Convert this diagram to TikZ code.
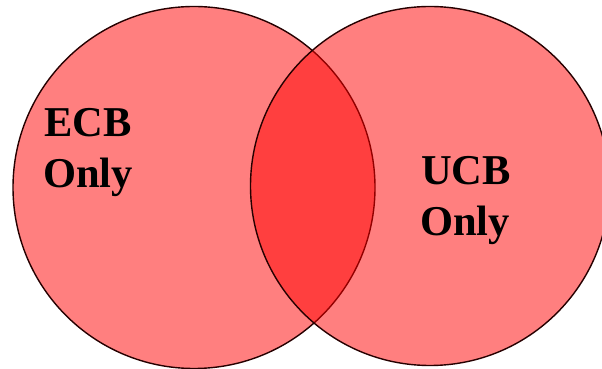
\documentclass[tikz,border=0pt]{standalone}
\usepackage{fontspec}
\setmainfont{Liberation Serif}
\begin{document}
\begin{tikzpicture}[x=1pt,y=1pt,
  setcircle/.style={circle, draw=black!85!red, line width=1.4pt,
    fill=red, fill opacity=0.5, draw opacity=1, inner sep=0pt},
  setlabel/.style={anchor=base west, inner sep=0pt,
    font=\fontsize{42.5}{50}\selectfont\bfseries, text=black}]
  \useasboundingbox (0,0) rectangle (602,369);
  \clip (0,0) rectangle (602,369);
  % the two overlapping sets
  \node[setcircle, minimum size=362pt] (ecb) at (194,181.5) {};
  \node[setcircle, minimum size=359pt] (ucb) at (430,183) {};
  % labels
  \node[setlabel] (ecbtop) at (44,232) {ECB};
  \node[setlabel] (ecbbot) at (43,181) {Only};
  \node[setlabel] (ucbtop) at (421,184) {UCB};
  \node[setlabel] (ucbbot) at (420,133) {Only};
\end{tikzpicture}
\end{document}
